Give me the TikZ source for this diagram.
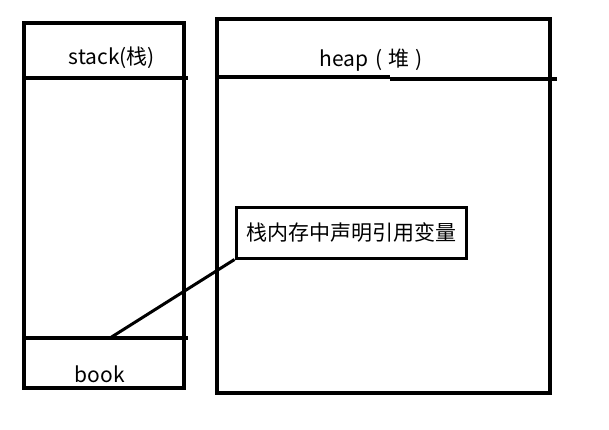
\documentclass[tikz,border=0pt]{standalone}
\usepackage{fontspec}
\setmainfont{Noto Sans CJK SC}
\usetikzlibrary{positioning}

\begin{document}
\begin{tikzpicture}[x=1pt,y=-1pt]
    % `frame' is used for the stack and heap outlines.
    % `caption' is used for the titles and the variable name.
    % `refbox' is used for the note inside the heap.
    \tikzstyle{frame} = [draw,line width=4pt]
    \tikzstyle{caption} = [inner sep=0pt,font=\fontsize{21}{24}\selectfont]
    \tikzstyle{refbox} = [draw,line width=3pt,fill=white,minimum width=230pt,minimum height=51pt,font=\fontsize{21}{24}\selectfont]
    \useasboundingbox (0,0) rectangle (609,430);
    %
    % Stack column.
    \draw[frame] (24,23) rectangle (184,388);
    \draw[frame] (24,78) -- (188,78);
    \draw[frame] (24,338) -- (188,338);
    \node[caption] (stack) at (112,58) {stack(栈)};
    \node[caption] (book) at (100,374) {book};
    \coordinate (bookslot) at (110,338);
    %
    % Heap column.
    \draw[frame] (217,19) rectangle (550,393);
    \draw[frame] (217,77) -- (390,77);
    \draw[frame] (390,79) -- (557,79);
    \node[caption] (heap) at (371,60) {heap\hspace{7pt}(\hspace{6pt}堆\hspace{6pt})};
    \node[refbox] (ref) at (351,232.5) {栈内存中声明引用变量};
    %
    % Reference line.
    \draw[line width=3pt] (bookslot) -- (ref.south west);
\end{tikzpicture}
\end{document}
